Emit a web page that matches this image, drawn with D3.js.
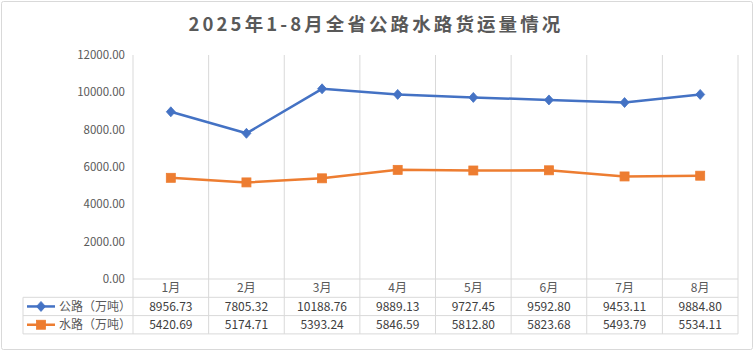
<!DOCTYPE html>
<html lang="zh">
<head>
<meta charset="UTF-8">
<title>2025年1-8月全省公路水路货运量情况</title>
<script src="https://d3js.org/d3.v7.min.js"></script>
<style>
  body { margin: 0; background: #fff; }
  svg { display: block; font-family: "Noto Sans CJK SC", "Noto Sans", sans-serif; }
</style>
</head>
<body>
<svg id="chart"></svg>
<script>
const months = ["1月", "2月", "3月", "4月", "5月", "6月", "7月", "8月"];
const roadValues = [8956.73, 7805.32, 10188.76, 9889.13, 9727.45, 9592.80, 9453.11, 9884.80];
const waterValues = [5420.69, 5174.71, 5393.24, 5846.59, 5812.80, 5823.68, 5493.79, 5534.11];
const seriesNames = ["公路（万吨）", "水路（万吨）"];
const yTicks = [0, 2000, 4000, 6000, 8000, 10000, 12000];

const width = 754, height = 351;
const svg = d3.select("#chart").attr("width", width).attr("height", height);

// outer frame
svg.append("rect")
  .attr("x", 1.5).attr("y", 1.5)
  .attr("width", width - 3).attr("height", height - 3)
  .attr("rx", 2)
  .attr("fill", "#fff").attr("stroke", "#d9d9d9").attr("stroke-width", 1);

svg.append("text")
  .attr("x", 376).attr("y", 31)
  .attr("text-anchor", "middle")
  .attr("font-size", 18.5).attr("font-weight", "bold")
  .attr("letter-spacing", 3.1)
  .attr("fill", "#595959")
  .text("2025年1-8月全省公路水路货运量情况");

const plotTop = 55, plotBottom = 279;
const x = d3.scaleBand().domain(months).range([133, 738]).padding(0);
const y = d3.scaleLinear().domain([0, 12000]).range([plotBottom, plotTop]);

const rowH = 18.3;
const tableTop = plotBottom;              // category label row
const row1 = plotBottom + rowH;           // 公路 row top
const row2 = row1 + rowH;                 // 水路 row top
const tableBottom = row2 + rowH;
const legendLeft = 23;

const grid = "#d9d9d9";

// vertical category lines (from plot top to table bottom)
const edges = months.map(m => x(m)).concat([x.range()[1]]);
svg.append("g").selectAll("line").data(edges).join("line")
  .attr("x1", d => d).attr("x2", d => d)
  .attr("y1", plotTop).attr("y2", tableBottom)
  .attr("stroke", grid).attr("stroke-width", 1);

// legend column left border
svg.append("line")
  .attr("x1", legendLeft).attr("x2", legendLeft)
  .attr("y1", row1).attr("y2", tableBottom)
  .attr("stroke", grid);

// horizontal table lines
svg.append("line").attr("x1", 133).attr("x2", 738).attr("y1", tableTop).attr("y2", tableTop).attr("stroke", grid);
[row1, row2, tableBottom].forEach(yy => {
  svg.append("line").attr("x1", legendLeft).attr("x2", 738).attr("y1", yy).attr("y2", yy).attr("stroke", grid);
});

// y axis labels
svg.append("g").selectAll("text").data(yTicks).join("text")
  .attr("x", 125).attr("y", d => y(d))
  .attr("dy", "0.35em")
  .attr("text-anchor", "end")
  .attr("font-size", 11.5)
  .attr("fill", "#595959")
  .text(d => d3.format(".2f")(d));

// category labels
svg.append("g").selectAll("text").data(months).join("text")
  .attr("x", d => x(d) + x.bandwidth() / 2)
  .attr("y", tableTop + rowH / 2)
  .attr("dy", "0.35em")
  .attr("text-anchor", "middle")
  .attr("font-size", 12)
  .attr("fill", "#595959")
  .text(d => d);

const series = [
  { name: seriesNames[0], values: roadValues, color: "#4472C4", marker: "diamond", rowTop: row1 },
  { name: seriesNames[1], values: waterValues, color: "#ED7D31", marker: "square", rowTop: row2 }
];

const line = d3.line()
  .x((d, i) => x(months[i]) + x.bandwidth() / 2)
  .y(d => y(d));

function drawMarker(g, type, cx, cy, color) {
  if (type === "diamond") {
    g.append("path")
      .attr("d", `M${cx},${cy - 5}L${cx + 4.5},${cy}L${cx},${cy + 5}L${cx - 4.5},${cy}Z`)
      .attr("fill", color).attr("stroke", color).attr("stroke-width", 0.8);
  } else {
    g.append("rect")
      .attr("x", cx - 4.5).attr("y", cy - 4.5)
      .attr("width", 9).attr("height", 9)
      .attr("fill", color).attr("stroke", color).attr("stroke-width", 0.8);
  }
}

series.forEach(s => {
  const g = svg.append("g");
  g.append("path")
    .datum(s.values)
    .attr("d", line)
    .attr("fill", "none")
    .attr("stroke", s.color)
    .attr("stroke-width", 2.5)
    .attr("stroke-linejoin", "round");
  s.values.forEach((v, i) => drawMarker(g, s.marker, x(months[i]) + x.bandwidth() / 2, y(v), s.color));

  // table row values
  svg.append("g").selectAll("text").data(s.values).join("text")
    .attr("x", (d, i) => x(months[i]) + x.bandwidth() / 2)
    .attr("y", s.rowTop + rowH / 2)
    .attr("dy", "0.35em")
    .attr("text-anchor", "middle")
    .attr("font-size", 12)
    .attr("fill", "#404040")
    .text(d => d3.format(".2f")(d));

  // legend key inside table
  const ly = s.rowTop + rowH / 2;
  const lg = svg.append("g");
  lg.append("line")
    .attr("x1", 27).attr("x2", 55).attr("y1", ly).attr("y2", ly)
    .attr("stroke", s.color).attr("stroke-width", 2.5);
  drawMarker(lg, s.marker, 41, ly, s.color);
  lg.append("text")
    .attr("x", 59).attr("y", ly).attr("dy", "0.35em")
    .attr("font-size", 12).attr("fill", "#595959")
    .text(s.name);
});
</script>
</body>
</html>
